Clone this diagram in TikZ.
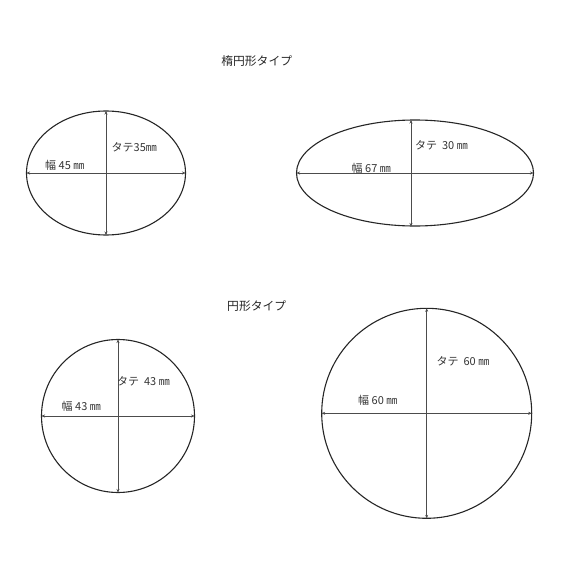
\documentclass[tikz,border=0pt]{standalone}
\usepackage{fontspec}
\setmainfont{Noto Sans CJK JP}
\usetikzlibrary{arrows.meta}

\begin{document}
\begin{tikzpicture}[x=1pt,y=-1pt,
    outline/.style={line width=1.1pt,black!85},
    measure/.style={{Stealth[length=3.5pt,width=3pt]}-{Stealth[length=3.5pt,width=3pt]},line width=0.5pt,black!70},
    label/.style={font=\fontsize{11}{13}\selectfont,text=black!80,inner sep=0pt,anchor=west},
    heading/.style={font=\fontsize{11.8}{13}\selectfont,text=black!85,inner sep=0pt}]
\useasboundingbox (0,0) rectangle (583,583);
\path   (106.0,173.0) coordinate (c1)
        (415.0,173.0) coordinate (c2)
        (118.0,416.0) coordinate (c3)
        (426.7,413.3) coordinate (c4)
        % ends of the measures
        (26.5,173.0)  coordinate (w1a)  (185.5,173.0) coordinate (w1b)
        (106.0,111.0) coordinate (h1a)  (106.0,235.0) coordinate (h1b)
        (296.5,173.0) coordinate (w2a)  (533.5,173.0) coordinate (w2b)
        (411.0,120.0) coordinate (h2a)  (411.0,226.5) coordinate (h2b)
        (41.5,416.0)  coordinate (w3a)  (194.5,416.0) coordinate (w3b)
        (118.0,339.5) coordinate (h3a)  (118.0,492.5) coordinate (h3b)
        (321.7,413.3) coordinate (w4a)  (531.7,413.3) coordinate (w4b)
        (426.7,308.3) coordinate (h4a)  (426.7,518.3) coordinate (h4b);

\node[heading] (title1) at (256.7,61.0) {楕円形タイプ};
\node[heading] (title2) at (256.7,305.7) {円形タイプ};

\draw[outline] (c1) ellipse [x radius=79.5, y radius=62];
\draw[outline] (c2) ellipse [x radius=118.5, y radius=53];
\draw[outline] (c3) circle (76.5);
\draw[outline] (c4) circle (105);

\foreach \n in {1,2,3,4} {
    \draw[measure] (w\n a) -- (w\n b);
    \draw[measure] (h\n a) -- (h\n b);
}

\node[label] (tate1) at (111.5,147.0) {タテ35㎜};
\node[label] (haba1) at (45.0,165.0) {幅 45 ㎜};
\node[label] (tate2) at (415.0,145.0) {タテ\ \ 30 ㎜};
\node[label] (haba2) at (351.5,168.0) {幅 67 ㎜};
\node[label] (tate3) at (117.0,381.0) {タテ\ \ 43 ㎜};
\node[label] (haba3) at (61.5,406.5) {幅 43 ㎜};
\node[label] (tate4) at (436.5,361.5) {タテ\ \ 60 ㎜};
\node[label] (haba4) at (358.0,400.0) {幅 60 ㎜};

\end{tikzpicture}
\end{document}
